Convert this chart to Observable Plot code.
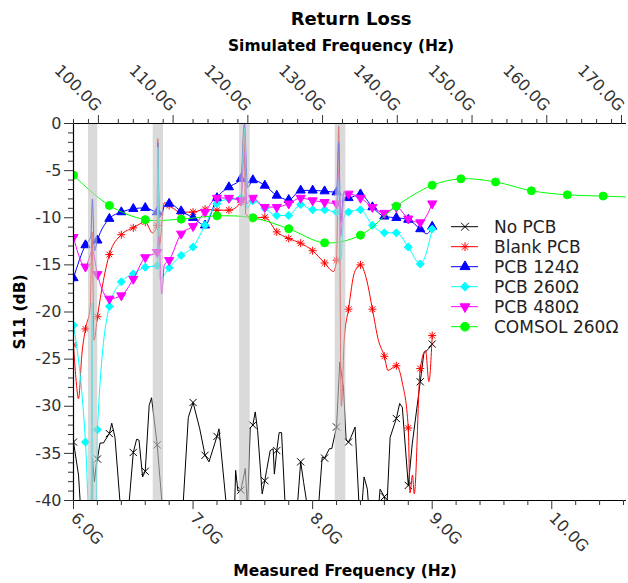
<!DOCTYPE html>
<html><head><meta charset="utf-8">
<script src="https://cdn.jsdelivr.net/npm/d3@7"></script>
<script src="https://cdn.jsdelivr.net/npm/@observablehq/plot@0.6"></script>
<style>
body{margin:0;background:#fff;font-family:"DejaVu Sans",sans-serif;}
#wrap{position:relative;width:628px;height:583px;overflow:hidden;background:#fff;}
.lab{position:absolute;font-weight:bold;color:#000;white-space:nowrap;transform:translate(-50%,-50%);}
#legend{position:absolute;left:440px;top:210px;}
</style></head><body><div id="wrap"></div>
<script>
// Measured frequency (GHz) grid of the markers
const markerFreqs = [6.0,6.1,6.2,6.3,6.4,6.5,6.6,6.7,6.8,6.9,7.0,7.1,7.2,7.3,7.4,7.5,7.6,7.7,7.8,7.9,8.0,8.1,8.2,8.3,8.4,8.5,8.6,8.7,8.8,8.9,9.0];

// No PCB (values below -40 leave the frame)
const noPcb = [-33.8,-46,-35.6,-32.9,-42,-34.9,-36.9,-34.1,-46,-44,-29.6,-35.2,-33.2,-45,-38.9,-32.0,-37.9,-34.7,-46,-35.9,-46,-35.5,-32.2,-33.8,-46,-46,-39.6,-31.3,-38.4,-27.4,-23.4];
const noPcbDetail = [[6.042,-37.3],[6.07,-43],[6.15,-44],[6.158,-35.5],[6.175,-38],[6.19,-36.2],[6.222,-33.9],[6.25,-33.9],[6.32,-31.8],[6.347,-33.3],[6.46,-41],[6.528,-33.5],[6.548,-33.6],[6.578,-37.5],[6.633,-29.9],[6.653,-29.1],[6.745,-41],[6.96,-31.2],[7.056,-32.4],[7.133,-35.9],[7.217,-32.4],[7.278,-40.5],[7.34,-44],[7.356,-36.8],[7.375,-39],[7.437,-36.6],[7.455,-41],[7.478,-32.3],[7.52,-30.6],[7.54,-32.6],[7.578,-39.3],[7.615,-36.8],[7.645,-34.7],[7.67,-34.5],[7.68,-37.2],[7.72,-32.8],[7.74,-32.8],[7.77,-40.5],[7.87,-41],[7.925,-38.1],[7.96,-41],[8.047,-41],[8.08,-35.4],[8.14,-34.5],[8.16,-34.5],[8.227,-25.3],[8.258,-28],[8.28,-33.6],[8.32,-33.3],[8.355,-32.2],[8.39,-41],[8.41,-41],[8.43,-37.5],[8.458,-38.8],[8.47,-41],[8.55,-41],[8.564,-38.8],[8.62,-41],[8.648,-33.3],[8.728,-29.7],[8.75,-30.1],[8.833,-34],[8.93,-24.4],[8.97,-23.9]];

// Blank PCB
const blankPcb = [-23.5,-21.8,-20.5,-13.9,-11.8,-11.07,-10.47,-10.8,-8.7,-9.4,-9.4,-9.1,-9.2,-9.2,-8.35,-10.05,-9.94,-11.5,-12.2,-12.7,-13.5,-14.8,-14.5,-19.7,-15.0,-19.7,-24.7,-25.7,-32.3,-26.0,-22.5];
const blankPcbDetail = [[6.02,-27],[6.042,-29.2],[6.07,-24.5],[6.14,-19.5],[6.155,-11.5],[6.172,-23],[6.66,-11.6],[6.705,-1.6],[6.717,-13],[6.76,-8.4],[7.425,-0.5],[7.44,-9.6],[8.175,-15.7],[8.218,-0.3],[8.24,-30],[8.265,-22.8],[8.35,-15.8],[8.45,-16.5],[8.55,-23],[8.63,-26.2],[8.75,-27.5],[8.814,-39.2],[8.835,-37.3],[8.85,-39.3],[8.945,-24.1],[8.972,-27.4]];

// PCB 124 ohm
const pcb124 = [-16.4,-12.9,-12.4,-10.1,-9.4,-9.05,-8.95,-9.4,-8.5,-9.3,-10.0,-10.8,-7.9,-6.75,-5.87,-6.0,-6.58,-7.64,-8.1,-7.1,-7.1,-7.18,-7.29,-7.9,-7.5,-8.87,-9.86,-10.0,-10.2,-11.2,-10.93];
const pcb124Detail = [[6.145,-12],[6.158,-8],[6.175,-13.5],[6.705,-2],[6.718,-10],[6.76,-8.8],[7.43,0],[7.455,-6.8],[8.218,-2],[8.235,-10.5],[8.26,-7.3],[8.955,-11.7]];

// PCB 260 ohm
const pcb260 = [-21.4,-33.8,-32.5,-19.4,-16.8,-15.95,-15.25,-15.1,-15.3,-14.0,-13.1,-10.8,-8.5,-8.0,-7.9,-8.2,-9.0,-9.76,-9.76,-8.6,-9.16,-9.16,-9.4,-9.4,-9.16,-10.8,-11.6,-11.6,-13.1,-14.9,-11.2];
const pcb260Detail = [[6.145,-45],[6.155,-19],[6.165,-45],[6.185,-45],[6.705,-2.5],[6.72,-16.5],[7.43,-0.5],[7.45,-9],[8.215,-6],[8.235,-14.5],[8.26,-10]];

// PCB 480 ohm
const pcb480 = [-12.06,-15.2,-16.0,-18.6,-18.25,-16.5,-14.2,-13.65,-14.5,-11.7,-10.9,-9.4,-7.9,-7.9,-8.17,-7.9,-8.87,-8.87,-8.5,-7.9,-8.17,-8.35,-8.5,-7.46,-7.9,-8.87,-9.5,-8.87,-10.1,-10.5,-8.5];
const pcb480Detail = [[6.158,-13.5],[6.715,-12],[6.737,-18.1],[6.76,-15],[7.43,-3],[7.45,-8.5],[8.218,-5],[8.235,-12],[8.26,-8]];

// COMSOL 260 ohm (simulation, plotted against measured-equivalent frequency)
const comsolFreqs = [6.0,6.3,6.6,6.9,7.2,7.5,7.8,8.1,8.4,8.7,9.0,9.24,9.53,9.83,10.13,10.43,10.73];
const comsol = [-5.5,-8.7,-10.2,-10.15,-9.8,-10.0,-11.17,-12.66,-11.85,-8.77,-6.55,-5.87,-6.2,-7.14,-7.57,-7.7,-7.85];

// Shaded frequency bands (GHz)
const bandStart = [6.125, 6.667, 7.389, 8.189];
const bandEnd   = [6.203, 6.753, 7.478, 8.278];

// Axis ticks
const measuredTicks = [6, 7, 8, 9, 10];
const measuredMinor = [6.2,6.4,6.6,6.8,7.2,7.4,7.6,7.8,8.2,8.4,8.6,8.8,9.2,9.4,9.6,9.8,10.2,10.4,10.6];
const simTicks = [100, 110, 120, 130, 140, 150, 160, 170];
const simMinor = [96,98,102,104,106,108,112,114,116,118,122,124,126,128,132,134,136,138,142,144,146,148,152,154,156,158,162,164,166,168];
const multiplier = 16;
const yTicks = [0,-5,-10,-15,-20,-25,-30,-35,-40];
const yMinor = [-1,-2,-3,-4,-6,-7,-8,-9,-11,-12,-13,-14,-16,-17,-18,-19,-21,-22,-23,-24,-26,-27,-28,-29,-31,-32,-33,-34,-36,-37,-38,-39];

const timesSym = {draw(ctx, size){const r = Math.sqrt(size/Math.PI); ctx.moveTo(-r,-r); ctx.lineTo(r,r); ctx.moveTo(-r,r); ctx.lineTo(r,-r);}};
const starSym = {draw(ctx, size){const r = Math.sqrt(size/Math.PI), d = r*0.72; ctx.moveTo(-r,0); ctx.lineTo(r,0); ctx.moveTo(0,-r); ctx.lineTo(0,r); ctx.moveTo(-d,-d); ctx.lineTo(d,d); ctx.moveTo(-d,d); ctx.lineTo(d,-d);}};

const toPts = (fs, vs) => fs.map((f, i) => ({f, v: vs[i]}));
const withDetail = (vals, detail) => toPts(markerFreqs, vals).concat(detail.map(([f, v]) => ({f, v}))).sort((a, b) => a.f - b.f);

const series = [
  {name: "No PCB", color: "#000000", marks: toPts(markerFreqs, noPcb), line: withDetail(noPcb, noPcbDetail), symbol: timesSym, filled: false, r: 3.6, curve: "linear"},
  {name: "Blank PCB", color: "#ff0000", marks: toPts(markerFreqs, blankPcb), line: withDetail(blankPcb, blankPcbDetail), symbol: starSym, filled: false, r: 4, curve: "monotone-x"},
  {name: "PCB 124Ω", color: "#0000ff", marks: toPts(markerFreqs, pcb124), line: withDetail(pcb124, pcb124Detail), symbol: "triangle", filled: true, r: 3.4, curve: "monotone-x"},
  {name: "PCB 260Ω", color: "#00ffff", marks: toPts(markerFreqs, pcb260), line: withDetail(pcb260, pcb260Detail), symbol: "diamond2", filled: true, r: 3.6, curve: "monotone-x"},
  {name: "PCB 480Ω", color: "#ff00ff", marks: toPts(markerFreqs, pcb480), line: withDetail(pcb480, pcb480Detail), symbol: "triangle", rotate: 180, filled: true, r: 3.4, curve: "monotone-x"},
  {name: "COMSOL 260Ω", color: "#00ff00", marks: toPts(comsolFreqs, comsol), line: toPts(comsolFreqs, comsol), symbol: "circle", filled: true, r: 4, curve: "catmull-rom"}
];
const bands = bandStart.map((s, i) => ({s, e: bandEnd[i]}));

const marks = [];
for (const s of series) {
  marks.push(Plot.line(s.line, {x: "f", y: "v", stroke: s.color, strokeWidth: 1, curve: s.curve, clip: true}));
  marks.push(Plot.dot(s.marks, {x: "f", y: "v", symbol: s.symbol, r: s.r, rotate: s.rotate || 0, stroke: s.color, strokeWidth: 1, fill: s.filled ? s.color : "none", clip: true}));
}
marks.push(Plot.rect(bands, {x1: "s", x2: "e", fill: "#c4c4c4", fillOpacity: 0.62}));
marks.push(Plot.ruleY([0, -40], {stroke: "#000", strokeWidth: 1.2}));
marks.push(Plot.ruleX([6], {stroke: "#000", strokeWidth: 1.2}));
marks.push(Plot.axisX({anchor: "bottom", ticks: measuredTicks, tickFormat: d => d.toFixed(1) + "G", tickRotate: 45, tickSize: 9, label: null}));
marks.push(Plot.axisX({anchor: "bottom", ticks: measuredMinor, tickFormat: () => "", tickSize: 5, label: null}));
marks.push(Plot.axisX({anchor: "top", ticks: simTicks.map(s => s / multiplier), tickFormat: d => (d * multiplier).toFixed(1) + "G", tickRotate: 45, tickSize: 9, label: null, dx: -5}));
marks.push(Plot.axisX({anchor: "top", ticks: simMinor.map(s => s / multiplier), tickFormat: () => "", tickSize: 5, label: null}));
marks.push(Plot.axisY({ticks: yTicks, tickFormat: d => String(d), tickSize: 9, label: null}));
marks.push(Plot.axisY({ticks: yMinor, tickFormat: () => "", tickSize: 5, label: null}));

const chart = Plot.plot({
  width: 628, height: 583,
  marginTop: 123, marginBottom: 83, marginLeft: 73, marginRight: 2,
  style: {fontFamily: "DejaVu Sans", fontSize: "16px", color: "#333", background: "white"},
  x: {domain: [6, 170 / multiplier]},
  y: {domain: [-40, 0]},
  marks
});
const wrap = document.getElementById("wrap");
wrap.appendChild(chart);

function addLabel(text, x, y, size, rot) {
  const d = document.createElement("div");
  d.className = "lab";
  d.textContent = text;
  d.style.left = x + "px"; d.style.top = y + "px"; d.style.fontSize = size + "px";
  if (rot) d.style.transform = `translate(-50%,-50%) rotate(${rot}deg)`;
  wrap.appendChild(d);
}
addLabel("Return Loss", 351, 18, 18);
addLabel("Simulated Frequency (Hz)", 341, 46, 15.5);
addLabel("Measured Frequency (Hz)", 345, 571, 15.5);
addLabel("S11 (dB)", 20, 312, 15.5, -90);

// Legend
const lg = d3.select(wrap).append("svg").attr("id", "legend").attr("width", 188).attr("height", 135);
series.forEach((s, i) => {
  const g = lg.append("g").attr("transform", `translate(0,${16.7 + 20 * i})`);
  g.append("line").attr("x1", 11).attr("x2", 38).attr("y1", 0).attr("y2", 0).attr("stroke", s.color).attr("stroke-width", 1);
  const symType = typeof s.symbol === "string" ? ({triangle: d3.symbolTriangle, diamond2: d3.symbolDiamond2, circle: d3.symbolCircle})[s.symbol] : s.symbol;
  g.append("path").attr("d", d3.symbol(symType, Math.PI * s.r * s.r * 1.2)())
    .attr("transform", `translate(25,0) rotate(${s.rotate || 0})`)
    .attr("fill", s.filled ? s.color : "none").attr("stroke", s.color).attr("stroke-width", 1);
  g.append("text").attr("x", 54).attr("y", 0).attr("dy", "0.35em").attr("font-size", 17)
    .attr("font-family", "DejaVu Sans").attr("fill", "#222").text(s.name);
});
</script></body></html>
